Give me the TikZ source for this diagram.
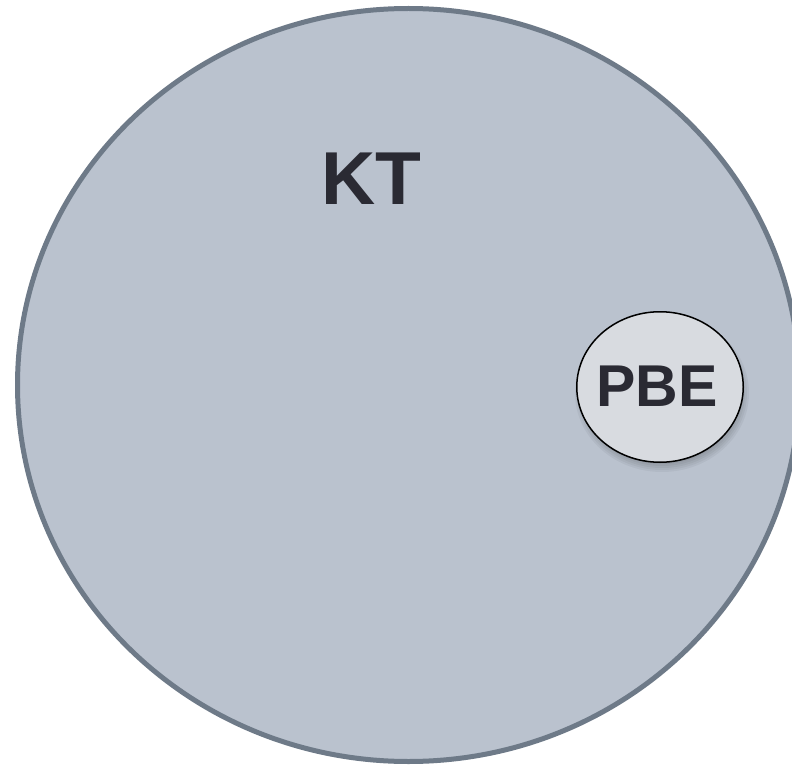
\documentclass[tikz,border=0pt]{standalone}
\usepackage{xcolor}
\usepackage{fontspec}
\setmainfont{Liberation Sans}
\usepackage{tikz}
\usetikzlibrary{shapes.geometric}

\definecolor{ktfill}{HTML}{BAC2CE}
\definecolor{ktline}{HTML}{6E7A88}
\definecolor{pbefill}{HTML}{D8DBE0}
\definecolor{labeltext}{HTML}{2A2A33}

\tikzset{
  setlabel/.style={text=labeltext, inner sep=0pt},
}

\begin{document}
\begin{tikzpicture}[x=1pt, y=-1pt]
	\useasboundingbox (0,0) rectangle (792,767);
	
	% Outer set
	\node[ellipse, draw=ktline, line width=5pt, fill=ktfill, inner sep=0pt, minimum width=782pt, minimum height=753pt] (kt) at (408.5,385) {};
	\node[setlabel, font=\bfseries\fontsize{75}{75}\selectfont] (ktlabel) at (371,179) {KT};
	
	% Soft shadow under the inner set
	\foreach \r in {-6,-4,...,4}
		\fill[black, opacity=0.045] (662,393) ellipse ({83+\r} and {75+\r});
	
	% Inner set
	\node[ellipse, draw=black, line width=1.5pt, fill=pbefill, inner sep=0pt, minimum width=166.5pt, minimum height=150.5pt] (pbe) at (660,387) {};
	\node[setlabel, font=\bfseries\fontsize{59}{59}\selectfont] (pbelabel) at (657,386.5) {PBE};
\end{tikzpicture}
\end{document}
